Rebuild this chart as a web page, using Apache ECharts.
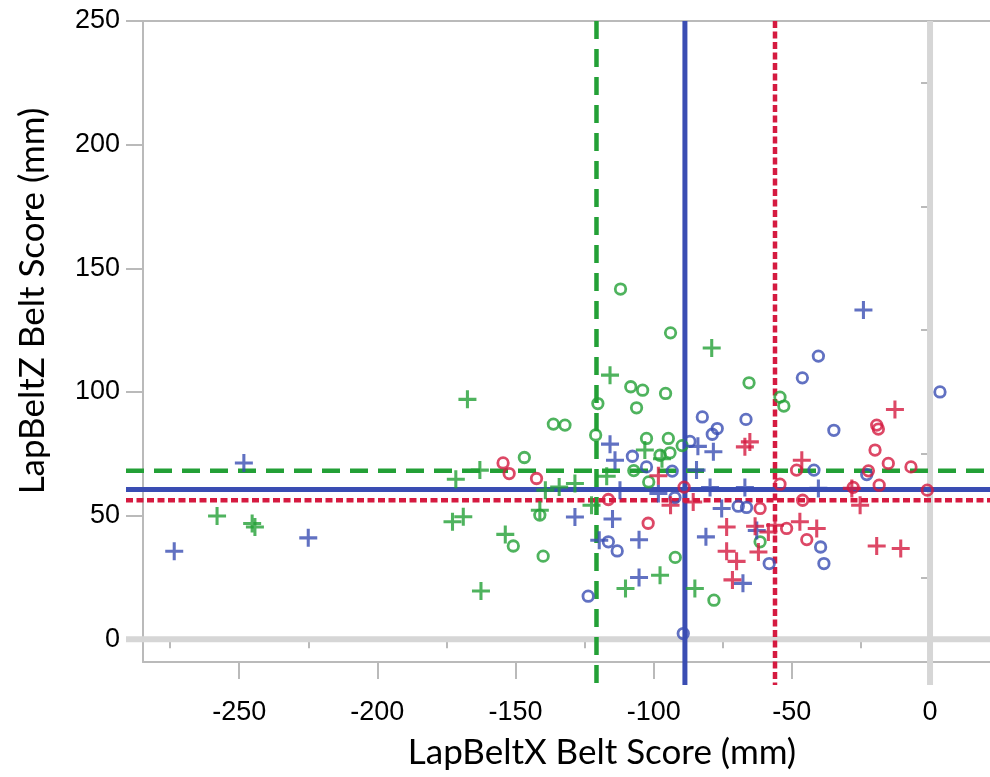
<!DOCTYPE html>
<html>
<head>
<meta charset="utf-8">
<script src="https://cdn.jsdelivr.net/npm/echarts@6/dist/echarts.min.js"></script>
<style>
  html, body { margin: 0; padding: 0; background: #ffffff; }
  #chart { width: 990px; height: 777px; }
</style>
</head>
<body>
<div id="chart"></div>
<script>
// Axis ticks (mm)
const xMajorTicks = [-250, -200, -150, -100, -50, 0];
const xMinorTicks = [-275, -225, -175, -125, -75, -25];
const yMajorTicks = [0, 50, 100, 150, 200, 250];
const yMinorTicks = [25, 75, 125, 175, 225];

// [LapBeltX, LapBeltZ] belt scores, by group and marker
const greenCircles = [
  [-112.0, 141.6], [-93.9, 123.9], [-108.3, 102.1], [-104.0, 100.7], [-95.7, 99.4],
  [-106.2, 93.6], [-120.2, 95.3], [-121.0, 82.6], [-136.3, 87.0], [-132.1, 86.6],
  [-102.6, 81.2], [-94.7, 81.2], [-89.7, 78.3], [-97.7, 74.4], [-94.1, 75.4],
  [-107.2, 68.2], [-101.8, 63.6], [-146.8, 73.5], [-141.2, 50.2], [-150.8, 37.7],
  [-140.0, 33.6], [-92.2, 33.1], [-78.2, 15.8], [-65.5, 103.7], [-54.3, 97.9],
  [-52.9, 94.3], [-61.5, 39.4]
];
const greenPlus = [
  [-258.0, 49.8], [-245.3, 46.8], [-244.3, 45.4], [-167.4, 97.0], [-171.6, 64.7],
  [-162.9, 68.4], [-172.8, 47.5], [-168.9, 49.5], [-162.5, 19.5], [-153.7, 42.4],
  [-141.2, 52.2], [-139.2, 60.3], [-134.2, 61.6], [-128.5, 63.0], [-122.5, 54.2],
  [-117.0, 65.9], [-115.8, 106.8], [-110.2, 20.5], [-97.7, 25.9], [-79.0, 117.8],
  [-85.1, 20.5], [-103.2, 76.5], [-97.0, 73.0]
];
const blueCircles = [
  [-82.4, 89.9], [-77.0, 85.2], [-78.8, 82.9], [-86.9, 80.0], [-107.7, 74.0],
  [-102.6, 69.7], [-93.3, 68.0], [-92.3, 57.3], [-116.4, 39.4], [-113.2, 35.7],
  [-123.7, 17.4], [-89.3, 2.3], [-66.6, 88.9], [-34.8, 84.5], [-42.0, 68.4],
  [-69.4, 53.8], [-66.4, 53.3], [-58.2, 30.6], [-39.6, 37.3], [-38.4, 30.6],
  [-40.4, 114.5], [-46.2, 105.7], [3.6, 100.0], [-22.9, 66.6]
];
const bluePlus = [
  [-273.5, 35.6], [-248.3, 71.3], [-225.0, 41.0], [-128.5, 49.4], [-115.8, 78.9],
  [-114.0, 72.4], [-112.2, 60.3], [-114.9, 48.6], [-105.3, 40.2], [-119.7, 40.0],
  [-105.3, 25.0], [-98.3, 58.9], [-84.5, 68.4], [-84.0, 78.0], [-78.4, 75.8],
  [-79.6, 61.4], [-67.0, 61.4], [-40.4, 61.0], [-75.4, 52.9], [-81.1, 41.4],
  [-67.7, 22.6], [-62.7, 44.0], [-24.1, 133.1]
];
const redCircles = [
  [-154.5, 71.3], [-152.3, 67.0], [-142.4, 65.0], [-116.4, 56.5], [-102.0, 46.9],
  [-89.0, 61.5], [-54.3, 62.7], [-61.5, 52.9], [-48.3, 68.4], [-46.1, 56.2],
  [-51.9, 44.8], [-44.6, 40.3], [-19.3, 86.6], [-18.7, 85.0], [-19.9, 76.5],
  [-15.1, 71.1], [-6.9, 69.7], [-22.3, 68.1], [-27.8, 61.4], [-18.4, 62.3],
  [-1.0, 60.3]
];
const redPlus = [
  [-98.3, 66.1], [-93.9, 54.2], [-85.7, 55.5], [-65.2, 79.8], [-67.0, 77.8],
  [-46.4, 72.4], [-73.6, 45.4], [-63.3, 45.7], [-56.1, 46.1], [-58.5, 43.4],
  [-47.1, 47.5], [-41.0, 44.8], [-73.6, 35.6], [-70.0, 31.5], [-62.1, 35.3],
  [-71.5, 24.0], [-12.7, 92.9], [-28.3, 61.0], [-25.3, 54.2], [-19.3, 37.7],
  [-10.6, 36.7]
];

// Group means drawn as reference lines: green, blue, red
const meanX = [-120.7, -88.7, -56.1];
const meanY = [68.1, 60.6, 56.2];

const GREEN = '#23a036';
const BLUE = '#3a4db3';
const RED = '#d51a40';
const AXIS = '#bababa';
const ZERO = '#d6d6d6';

const refStyles = [
  { color: GREEN, width: 4.5, dash: [18, 10] },
  { color: BLUE, width: 5, dash: null },
  { color: RED, width: 4.5, dash: [7, 3.5] }
];

const PLUS = 'path://M-0.085,-0.5H0.085V-0.085H0.5V0.085H0.085V0.5H-0.085V0.085H-0.5V-0.085H-0.085Z';

const X_MIN = -284.8, X_MAX = 21.7, Y_MIN = -9.2, Y_MAX = 250;

const chart = echarts.init(document.getElementById('chart'), null, { renderer: 'canvas' });

function lineEl(x1, y1, x2, y2, color, width, dash) {
  return {
    type: 'line',
    shape: { x1, y1, x2, y2 },
    style: { stroke: color, lineWidth: width, lineDash: dash || null, fill: null }
  };
}

// Reference lines reach slightly past the frame into the tick area
const refData = [];
meanX.forEach((v, i) => refData.push([v, meanY[i], i, 0]));
meanX.forEach((v, i) => refData.push([v, meanY[i], i, 1]));

function renderRef(params, api) {
  const cs = params.coordSys;
  const idx = api.value(2);
  const dir = api.value(3);
  const st = refStyles[idx];
  if (dir === 0) {
    const p = api.coord([api.value(0), 0]);
    return lineEl(p[0], cs.y, p[0], cs.y + cs.height + 23, st.color, st.width, st.dash);
  }
  const q = api.coord([0, api.value(1)]);
  return lineEl(cs.x - 17, q[1], cs.x + cs.width, q[1], st.color, st.width, st.dash);
}

function renderZero(params, api) {
  const cs = params.coordSys;
  const p = api.coord([0, 0]);
  if (api.value(0) === 0) {
    return lineEl(p[0], cs.y, p[0], cs.y + cs.height + 23, ZERO, 6, null);
  }
  return lineEl(cs.x - 17, p[1], cs.x + cs.width, p[1], ZERO, 6, null);
}

function scatter(name, data, color, isPlus) {
  return {
    name,
    type: 'scatter',
    data,
    silent: true,
    z: 5,
    symbol: isPlus ? PLUS : 'circle',
    symbolSize: isPlus ? 18 : 10.5,
    itemStyle: isPlus
      ? { color: color, borderWidth: 0 }
      : { color: 'rgba(255,255,255,0)', borderColor: color, borderWidth: 2.8 }
  };
}

const labelFont = { fontFamily: 'Liberation Sans', fontSize: 27, color: '#000000' };

chart.setOption({
  animation: false,
  backgroundColor: '#ffffff',
  grid: { left: 143, top: 21, right: 0, bottom: 115, containLabel: false },
  xAxis: [
    {
      type: 'value', min: X_MIN, max: X_MAX, position: 'bottom',
      axisLine: { show: true, onZero: false, lineStyle: { color: AXIS, width: 2 } },
      axisTick: { show: true, customValues: xMajorTicks, length: 17, lineStyle: { color: AXIS, width: 2 } },
      axisLabel: Object.assign({ customValues: xMajorTicks, margin: 37 }, labelFont),
      splitLine: { show: false }
    },
    {
      type: 'value', min: X_MIN, max: X_MAX, position: 'bottom',
      axisLine: { show: false },
      axisTick: { show: true, customValues: xMinorTicks, length: 9, lineStyle: { color: AXIS, width: 2 } },
      axisLabel: { show: false },
      splitLine: { show: false }
    },
    {
      type: 'value', min: X_MIN, max: X_MAX, position: 'top',
      axisLine: { show: true, onZero: false, lineStyle: { color: AXIS, width: 2 } },
      axisTick: { show: false }, axisLabel: { show: false }, splitLine: { show: false }
    }
  ],
  yAxis: [
    {
      type: 'value', min: Y_MIN, max: Y_MAX, position: 'left',
      axisLine: { show: true, onZero: false, lineStyle: { color: AXIS, width: 2 } },
      axisTick: { show: true, customValues: yMajorTicks, length: 17, lineStyle: { color: AXIS, width: 2 } },
      axisLabel: Object.assign({ customValues: yMajorTicks, margin: 23 }, labelFont),
      splitLine: { show: false }
    },
    {
      type: 'value', min: Y_MIN, max: Y_MAX, position: 'left',
      axisLine: { show: false },
      axisTick: { show: true, customValues: yMinorTicks, length: 9, lineStyle: { color: AXIS, width: 2 } },
      axisLabel: { show: false },
      splitLine: { show: false }
    }
  ],
  graphic: [
    {
      type: 'text', x: 602, y: 753, silent: true,
      style: { text: 'LapBeltX Belt Score (mm)', fontFamily: 'Lato', fontSize: 35, fill: '#000000', align: 'center', verticalAlign: 'middle' }
    },
    {
      type: 'text', x: 33, y: 301, rotation: Math.PI / 2, silent: true,
      style: { text: 'LapBeltZ Belt Score (mm)', fontFamily: 'Lato', fontSize: 35, fill: '#000000', align: 'center', verticalAlign: 'middle' }
    }
  ],
  series: [
    { type: 'custom', name: 'zero', data: [[0, 1], [1, 0]], renderItem: renderZero, clip: false, silent: true, z: 1 },
    { type: 'custom', name: 'means', data: refData, renderItem: renderRef, clip: false, silent: true, z: 3 },
    scatter('green circle', greenCircles, GREEN, false),
    scatter('green plus', greenPlus, GREEN, true),
    scatter('blue circle', blueCircles, BLUE, false),
    scatter('blue plus', bluePlus, BLUE, true),
    scatter('red circle', redCircles, RED, false),
    scatter('red plus', redPlus, RED, true)
  ]
});
</script>
</body>
</html>
